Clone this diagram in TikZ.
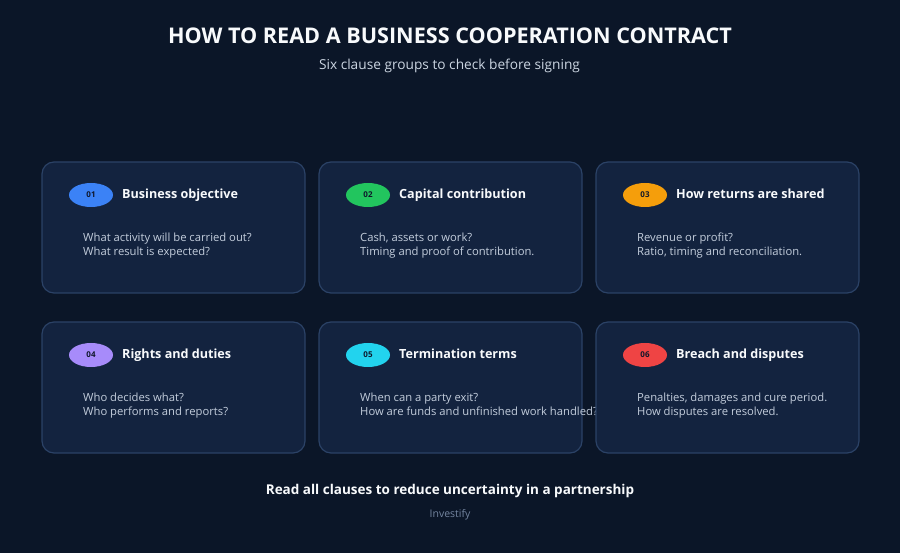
\documentclass[tikz,border=0pt]{standalone}
\usepackage{fontspec}
\setmainfont{Open Sans}
\usetikzlibrary{shapes.geometric,calc}
\definecolor{bg}{HTML}{0B1628}
\definecolor{cardfill}{HTML}{13233F}
\definecolor{cardline}{HTML}{2B4266}
\definecolor{titlec}{HTML}{F8FAFC}
\definecolor{subc}{HTML}{CBD5E1}
\definecolor{bodyc}{HTML}{C3CDDC}
\definecolor{brandc}{HTML}{7485A0}
\definecolor{numc}{HTML}{0F172A}
\definecolor{cblue}{HTML}{3B82F6}
\definecolor{cgreen}{HTML}{22C55E}
\definecolor{corange}{HTML}{F59E0B}
\definecolor{cpurple}{HTML}{A78BFA}
\definecolor{ccyan}{HTML}{22D3EE}
\definecolor{cred}{HTML}{EF4444}
\tikzset{
  card/.style={draw=cardline, line width=1.2pt, fill=cardfill, rounded corners=12pt},
  badge/.style={ellipse, minimum width=44pt, minimum height=24pt, inner sep=0pt, font=\fontsize{8}{9}\selectfont\bfseries, text=numc},
  ctitle/.style={anchor=base west, inner sep=0pt, text=titlec, font=\fontsize{12.6}{15}\selectfont\bfseries},
  cbody/.style={anchor=base west, inner sep=0pt, text=bodyc, font=\fontsize{11.25}{14}\selectfont},
}
\begin{document}
\begin{tikzpicture}[x=1pt,y=-1pt]
\fill[bg] (0,0) rectangle (900,553);
\useasboundingbox (0,0) rectangle (900,553);
\node[anchor=base, inner sep=0pt, text=titlec, font=\fontsize{21.6}{24}\selectfont\bfseries] (title) at (450,43.3) {HOW TO READ A BUSINESS COOPERATION CONTRACT};
\node[anchor=base, inner sep=0pt, text=subc, font=\fontsize{13.7}{16}\selectfont] (subtitle) at (449.5,70) {Six clause groups to check before signing};
% cards
\newcommand{\mycard}[7]{%
  \draw[card] (#1,#2) rectangle ++(263,131);
  \node[badge, fill=#3] (b#4) at ($(#1,#2)+(49,33)$) {#4};
  \node[ctitle] (t#4) at ($(#1,#2)+(80,37)$) {#5};
  \node[cbody] (d#4) at ($(#1,#2)+(41,79.2)$) {#6};
  \node[cbody] (e#4) at ($(#1,#2)+(41,93.8)$) {#7};
}
\mycard{42}{162}{cblue}{01}{Business objective}{What activity will be carried out?}{What result is expected?}
\mycard{319}{162}{cgreen}{02}{Capital contribution}{Cash, assets or work?}{Timing and proof of contribution.}
\mycard{596}{162}{corange}{03}{How returns are shared}{Revenue or profit?}{Ratio, timing and reconciliation.}
\mycard{42}{322}{cpurple}{04}{Rights and duties}{Who decides what?}{Who performs and reports?}
\mycard{319}{322}{ccyan}{05}{Termination terms}{When can a party exit?}{How are funds and unfinished work handled?}
\mycard{596}{322}{cred}{06}{Breach and disputes}{Penalties, damages and cure period.}{How disputes are resolved.}
\node[anchor=base, inner sep=0pt, text=titlec, font=\fontsize{13.5}{17}\selectfont\bfseries] (footer) at (450,494) {Read all clauses to reduce uncertainty in a partnership};
\node[anchor=base, inner sep=0pt, text=brandc, font=\fontsize{10.5}{13}\selectfont] (brand) at (450,517) {Investify};
\end{tikzpicture}
\end{document}
